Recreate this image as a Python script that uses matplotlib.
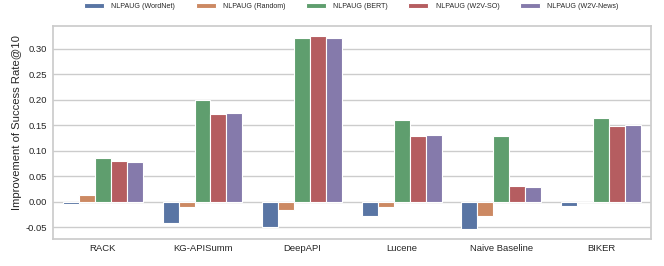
import matplotlib
matplotlib.use("Agg")
import matplotlib.pyplot as plt
import pandas as pd
import seaborn as sns

projects = ["RACK", "KG-APISumm", "DeepAPI", "Lucene", "Naive Baseline", "BIKER"]
methods = ["NLPAUG (WordNet)", "NLPAUG (Random)", "NLPAUG (BERT)", "NLPAUG (W2V-SO)", "NLPAUG (W2V-News)"]

wordnet = [-0.005, -0.041, -0.049, -0.029, -0.054, -0.008]
random_ins = [0.013, -0.010, -0.016, -0.010, -0.028, -0.001]
bert = [0.086, 0.200, 0.320, 0.160, 0.128, 0.164]
w2v_so = [0.079, 0.172, 0.324, 0.128, 0.031, 0.148]
w2v_news = [0.078, 0.173, 0.321, 0.131, 0.029, 0.151]

rows = []
for name, vals in zip(methods, [wordnet, random_ins, bert, w2v_so, w2v_news]):
    for proj, v in zip(projects, vals):
        rows.append({"Project": proj, "Method": name, "Improvement": v})
df = pd.DataFrame(rows)

sns.set_theme(style="whitegrid", palette="deep")
plt.rcParams["font.family"] = ["Liberation Sans", "DejaVu Sans"]

fig = plt.figure(figsize=(6.64, 2.66), dpi=100)
ax = fig.add_axes([0.080, 0.102, 0.900, 0.800])
sns.barplot(data=df, x="Project", y="Improvement", hue="Method", order=projects,
            hue_order=methods, ax=ax, saturation=0.75, edgecolor="white", linewidth=0.8)

ax.set_ylim(-0.073, 0.344)
ax.set_yticks([-0.05, 0.0, 0.05, 0.10, 0.15, 0.20, 0.25, 0.30])
ax.set_yticklabels([f"{t:.2f}" for t in ax.get_yticks()], fontsize=6.8)
ax.tick_params(axis="x", labelsize=6.8, length=0, pad=3.5)
ax.tick_params(axis="y", length=0, pad=4.5)
ax.set_xlabel("")
ax.set_ylabel("Improvement of Success Rate@10", fontsize=8.1)
ax.yaxis.set_label_coords(-0.052, 0.545)

ax.legend(loc="center left", bbox_to_anchor=(84 / 664, 1 - 6.7 / 266), bbox_transform=fig.transFigure,
          ncol=5, frameon=False, fontsize=5.1, handlelength=2.84, handleheight=0.7,
          handletextpad=1.0, columnspacing=2.9, borderpad=0, borderaxespad=0)

fig.savefig("out.png", dpi=100)
